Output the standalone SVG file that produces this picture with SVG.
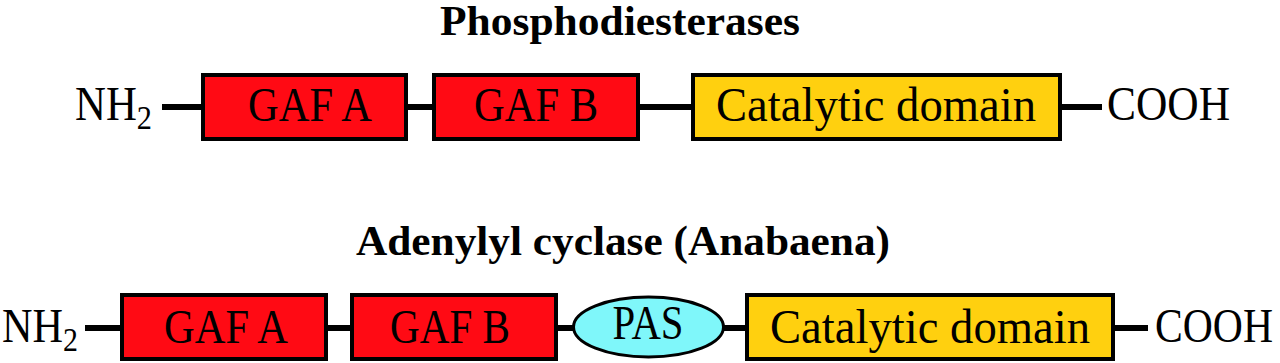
<svg xmlns="http://www.w3.org/2000/svg" width="1280" height="363" viewBox="0 0 1280 363">
<style>
  .title { font-family: "Liberation Serif", "Times New Roman", serif; font-weight: bold; font-size: 42px; fill: #000; text-anchor: middle; }
  .lbl { font-family: "Liberation Serif", "Times New Roman", serif; font-size: 48px; fill: #000; }
  .mid { text-anchor: middle; }
  .gaf { fill: #FF0A14; stroke: #000; stroke-width: 4; }
  .cat { fill: #FFD00F; stroke: #000; stroke-width: 4; }
  .pas { fill: #7FF7FA; stroke: #000; stroke-width: 3; }
  .link { stroke: #000; stroke-width: 6; fill: none; }
</style>
<rect width="1280" height="363" fill="#fff"/>

<text id="title-pde" class="title" x="620" y="35" textLength="360" lengthAdjust="spacingAndGlyphs">Phosphodiesterases</text>
<text id="title-ac" class="title" x="623" y="255" textLength="534" lengthAdjust="spacingAndGlyphs">Adenylyl cyclase (Anabaena)</text>

<g id="connectors">
  <line class="link" x1="162" y1="107" x2="203" y2="107"/>
  <line class="link" x1="406" y1="107" x2="434" y2="107"/>
  <line class="link" x1="638" y1="107" x2="693" y2="107"/>
  <line class="link" x1="1060" y1="107" x2="1102" y2="107"/>
  <line class="link" x1="85" y1="328" x2="122" y2="328"/>
  <line class="link" x1="326" y1="328" x2="352" y2="328"/>
  <line class="link" x1="556" y1="328" x2="574" y2="328"/>
  <line class="link" x1="723" y1="328" x2="747" y2="328"/>
  <line class="link" x1="1113" y1="328" x2="1148" y2="328"/>
</g>

<g id="pde-nh2">
  <text class="lbl" x="75" y="120" textLength="77" lengthAdjust="spacingAndGlyphs">NH<tspan dy="9" font-size="34">2</tspan></text>
</g>
<g id="pde-gafa">
  <rect class="gaf" x="203" y="75" width="203" height="64"/>
  <text class="lbl mid" x="310" y="121" textLength="124" lengthAdjust="spacingAndGlyphs">GAF A</text>
</g>
<g id="pde-gafb">
  <rect class="gaf" x="434" y="75" width="204" height="64"/>
  <text class="lbl mid" x="536" y="121" textLength="124" lengthAdjust="spacingAndGlyphs">GAF B</text>
</g>
<g id="pde-catalytic">
  <rect class="cat" x="693" y="75" width="367" height="64"/>
  <text class="lbl mid" x="876" y="121" textLength="320" lengthAdjust="spacingAndGlyphs">Catalytic domain</text>
</g>
<g id="pde-cooh">
  <text class="lbl" x="1107" y="120" textLength="123" lengthAdjust="spacingAndGlyphs">COOH</text>
</g>

<g id="ac-nh2">
  <text class="lbl" x="2" y="342" textLength="76" lengthAdjust="spacingAndGlyphs">NH<tspan dy="9" font-size="34">2</tspan></text>
</g>
<g id="ac-gafa">
  <rect class="gaf" x="122" y="295" width="204" height="64"/>
  <text class="lbl mid" x="226" y="343" textLength="124" lengthAdjust="spacingAndGlyphs">GAF A</text>
</g>
<g id="ac-gafb">
  <rect class="gaf" x="352" y="295" width="204" height="64"/>
  <text class="lbl mid" x="450" y="343" textLength="120" lengthAdjust="spacingAndGlyphs">GAF B</text>
</g>
<g id="ac-pas">
  <ellipse class="pas" cx="648.5" cy="327" rx="75" ry="30"/>
  <text class="lbl mid" x="648" y="339" font-size="46" textLength="71" lengthAdjust="spacingAndGlyphs">PAS</text>
</g>
<g id="ac-catalytic">
  <rect class="cat" x="747" y="295" width="366" height="64"/>
  <text class="lbl mid" x="930" y="343" textLength="320" lengthAdjust="spacingAndGlyphs">Catalytic domain</text>
</g>
<g id="ac-cooh">
  <text class="lbl" x="1155" y="342" textLength="118" lengthAdjust="spacingAndGlyphs">COOH</text>
</g>
</svg>
